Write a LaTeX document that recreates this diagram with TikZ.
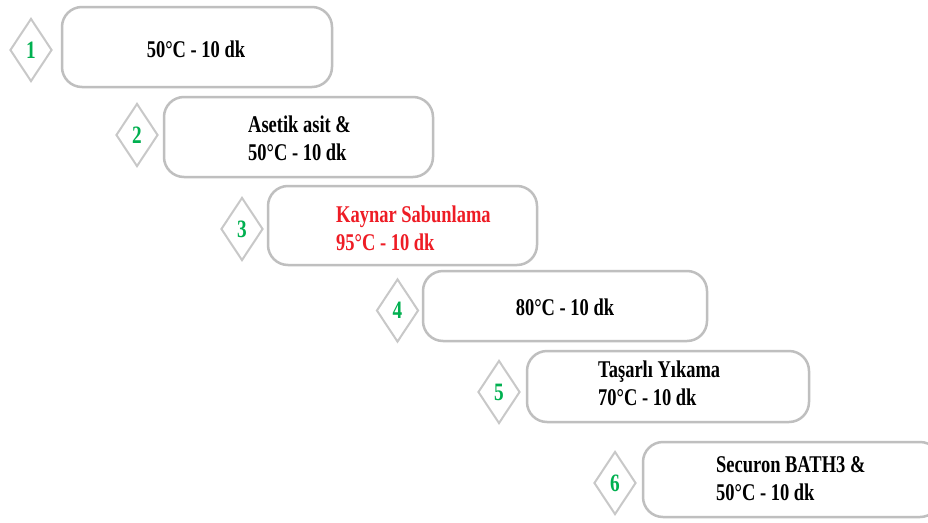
\documentclass[tikz,border=0pt]{standalone}
\usepackage{fontspec}
\setmainfont{Liberation Serif}[FakeStretch=0.77]
\usetikzlibrary{shapes.geometric}
\definecolor{boxgray}{HTML}{BFBFBF}
\definecolor{dgray}{HTML}{C8C8C8}
\definecolor{numgreen}{HTML}{00B050}
\definecolor{hotred}{HTML}{EE1C25}
\begin{document}
\begin{tikzpicture}[x=1pt,y=-1pt,
  stepbox/.style={draw=boxgray, line width=2.5pt, rounded corners=20pt, fill=white, inner sep=0pt},
  steptext/.style={inner sep=0pt, align=left, font=\fontsize{24}{28}\selectfont\bfseries},
  num/.style={diamond, draw=dgray, line width=2pt, aspect=0.667, minimum width=42pt, minimum height=63pt, inner sep=0pt, text=numgreen, font=\fontsize{25}{26}\selectfont\bfseries}]
\useasboundingbox[fill=white] (0,0) rectangle (928,522);
\begin{scope}
\clip (0,0) rectangle (928,522);
% boxes
\node[stepbox, minimum width=270pt, minimum height=80pt] (b1) at (197,47) {};
\node[stepbox, minimum width=269pt, minimum height=80pt] (b2) at (298.5,137) {};
\node[stepbox, minimum width=269pt, minimum height=79pt] (b3) at (402.5,225.5) {};
\node[stepbox, minimum width=284pt, minimum height=70pt] (b4) at (565,306) {};
\node[stepbox, minimum width=282pt, minimum height=71pt] (b5) at (668,386.5) {};
\node[stepbox, minimum width=297pt, minimum height=75pt] (b6) at (791.5,479.5) {};
% texts
\node[steptext] (t1) at (196,49) {50°C - 10 dk};
\node[steptext, anchor=west] (t2) at (248,138) {Asetik asit \&\\50°C - 10 dk};
\node[steptext, anchor=west, text=hotred] (t3) at (336,228) {Kaynar Sabunlama\\95°C - 10 dk};
\node[steptext] (t4) at (565,307) {80°C - 10 dk};
\node[steptext, anchor=west] (t5) at (598,383) {Taşarlı Yıkama\\70°C - 10 dk};
\node[steptext, anchor=west] (t6) at (716,479) {Securon BATH3 \&\\50°C - 10 dk};
% diamonds
\node[num] (d1) at (31,50) {1};
\node[num] (d2) at (137,135) {2};
\node[num] (d3) at (242,229) {3};
\node[num] (d4) at (397.5,310.5) {4};
\node[num] (d5) at (499,392) {5};
\node[num] (d6) at (615,483) {6};
\end{scope}
\end{tikzpicture}
\end{document}
